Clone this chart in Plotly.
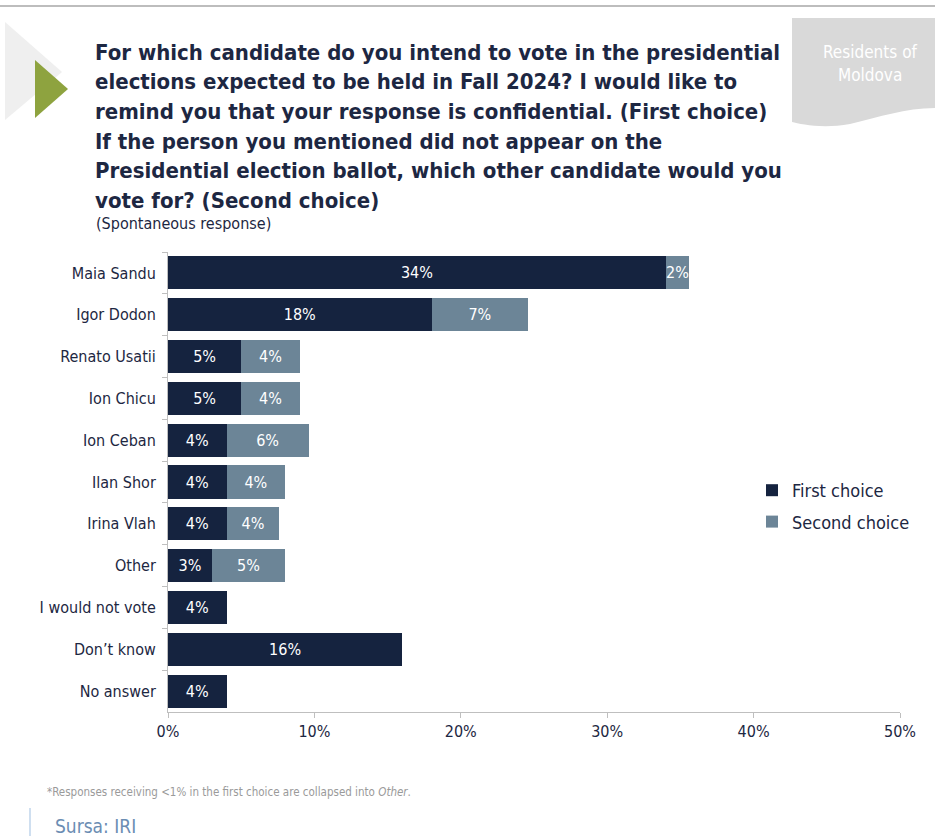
import plotly.graph_objects as go

categories = ["Maia Sandu", "Igor Dodon", "Renato Usatii", "Ion Chicu", "Ion Ceban",
              "Ilan Shor", "Irina Vlah", "Other", "I would not vote", "Don\u2019t know", "No answer"]
first_choice = [34, 18, 5, 5, 4, 4, 4, 3, 4, 16, 4]
second_choice = [1.6, 6.6, 4, 4, 5.6, 4, 3.6, 5, None, None, None]
x_ticks = [0, 10, 20, 30, 40, 50]
x_tick_labels = ["0%", "10%", "20%", "30%", "40%", "50%"]

FONT = "DejaVu Sans Condensed, Liberation Sans Narrow, Roboto, sans-serif"
NAVY = "#15233f"
STEEL = "#6c8597"
TEXTC = "#1d2742"

W, H = 935, 836
L, R, T, B = 168, 900, 252, 712


def px(x):
    return (x - L) / (R - L)


def py(y):
    return (B - y) / (B - T)


fig = go.Figure()
fig.add_trace(go.Bar(
    y=categories, x=first_choice, orientation="h", name="First choice",
    legendgroup="a",
    marker=dict(color=NAVY, line=dict(width=0)),
    texttemplate="%{x:.0f}%", textposition="inside", insidetextanchor="middle",
    textangle=0,
    textfont=dict(color="white", size=16, family=FONT), constraintext="none",
    hoverinfo="skip"))
fig.add_trace(go.Bar(
    y=categories, x=second_choice, orientation="h", name="Second choice",
    legendgroup="b",
    marker=dict(color=STEEL, line=dict(width=0)),
    texttemplate="%{x:.0f}%", textposition="inside", insidetextanchor="middle",
    textangle=0,
    textfont=dict(color="white", size=16, family=FONT), constraintext="none",
    hoverinfo="skip"))

shapes = []
annotations = []

# top rule
shapes.append(dict(type="line", xref="paper", yref="paper", x0=px(0), x1=px(935),
                   y0=py(6), y1=py(6), line=dict(color="#bdbdbd", width=2)))
# light gray chevron
shapes.append(dict(type="path", xref="paper", yref="paper",
                   path=f"M {px(5)},{py(22)} L {px(62)},{py(72)} L {px(5)},{py(120)} Z",
                   fillcolor="#efefef", line=dict(width=0), layer="below"))
# green arrow
shapes.append(dict(type="path", xref="paper", yref="paper",
                   path=f"M {px(35)},{py(60)} L {px(68)},{py(89)} L {px(35)},{py(118)} Z",
                   fillcolor="#8ea33f", line=dict(width=0)))
# gray box with wavy bottom
box = (f"M {px(792)},{py(18)} L {px(935)},{py(18)} L {px(935)},{py(108)} "
       f"C {px(905)},{py(108)} {px(880)},{py(117)} {px(850)},{py(124)} "
       f"C {px(822)},{py(129)} {px(800)},{py(124)} {px(792)},{py(122)} Z")
shapes.append(dict(type="path", xref="paper", yref="paper", path=box,
                   fillcolor="#d9d9d9", line=dict(width=0)))
# Sursa vertical line
shapes.append(dict(type="line", xref="paper", yref="paper", x0=px(30), x1=px(30),
                   y0=py(808), y1=py(836), line=dict(color="#cfdff0", width=2)))

for txt, yy in [("Residents of", 52), ("Moldova", 75)]:
    annotations.append(dict(text=txt, xref="paper", yref="paper", x=px(870), y=py(yy),
                            xanchor="center", yanchor="middle", showarrow=False,
                            font=dict(family=FONT, size=17, color="white")))

title_lines = [
    "For which candidate do you intend to vote in the presidential",
    "elections expected to be held in Fall 2024? I would like to",
    "remind you that your response is confidential. (First choice)",
    "If the person you mentioned did not appear on the",
    "Presidential election ballot, which other candidate would you",
    "vote for? (Second choice)",
]
for i, line in enumerate(title_lines):
    annotations.append(dict(text=f"<b>{line}</b>", xref="paper", yref="paper",
                            x=px(93), y=py(52 + i * 29.7), xanchor="left", yanchor="middle",
                            showarrow=False, font=dict(family=FONT, size=22, color=TEXTC)))
annotations.append(dict(text="(Spontaneous response)", xref="paper", yref="paper",
                        x=px(94), y=py(224), xanchor="left", yanchor="middle", showarrow=False,
                        font=dict(family=FONT, size=16, color=TEXTC)))
annotations.append(dict(text="*Responses receiving <1% in the first choice are collapsed into <i>Other</i>.",
                        xref="paper", yref="paper", x=px(45), y=py(792), xanchor="left",
                        yanchor="middle", showarrow=False,
                        font=dict(family=FONT, size=11.5, color="#9a9a9a")))
annotations.append(dict(text="Sursa: IRI", xref="paper", yref="paper", x=px(53), y=py(826),
                        xanchor="left", yanchor="middle", showarrow=False,
                        font=dict(family=FONT, size=19, color="#6b8db3")))

fig.update_layout(
    width=W, height=H,
    margin=dict(l=L, r=W - R, t=T, b=H - B, pad=0, autoexpand=False),
    barmode="stack", bargap=0.21,
    plot_bgcolor="white", paper_bgcolor="white",
    font=dict(family=FONT, color=TEXTC),
    showlegend=True,
    legend=dict(x=px(752), y=py(506), xanchor="left", yanchor="middle",
                font=dict(family=FONT, size=18, color=TEXTC), traceorder="grouped",
                tracegroupgap=5, bgcolor="rgba(0,0,0,0)", itemwidth=30),
    xaxis=dict(range=[0, 50], tickvals=x_ticks, ticktext=x_tick_labels,
               showgrid=False, zeroline=False, showline=True, linecolor="#bfbfbf",
               linewidth=1, ticks="outside", ticklen=5, tickcolor="#bfbfbf",
               tickfont=dict(family=FONT, size=16, color=TEXTC), fixedrange=True),
    yaxis=dict(categoryorder="array", categoryarray=categories, autorange="reversed",
               showgrid=False, zeroline=False, showline=True, linecolor="#bfbfbf",
               linewidth=1, ticks="outside", ticklen=5, tickcolor="#bfbfbf",
               tickson="boundaries", ticklabelstandoff=8,
               tickfont=dict(family=FONT, size=16, color=TEXTC), fixedrange=True),
    shapes=shapes, annotations=annotations,
)

fig.write_html("out.html", config={"displayModeBar": False})
